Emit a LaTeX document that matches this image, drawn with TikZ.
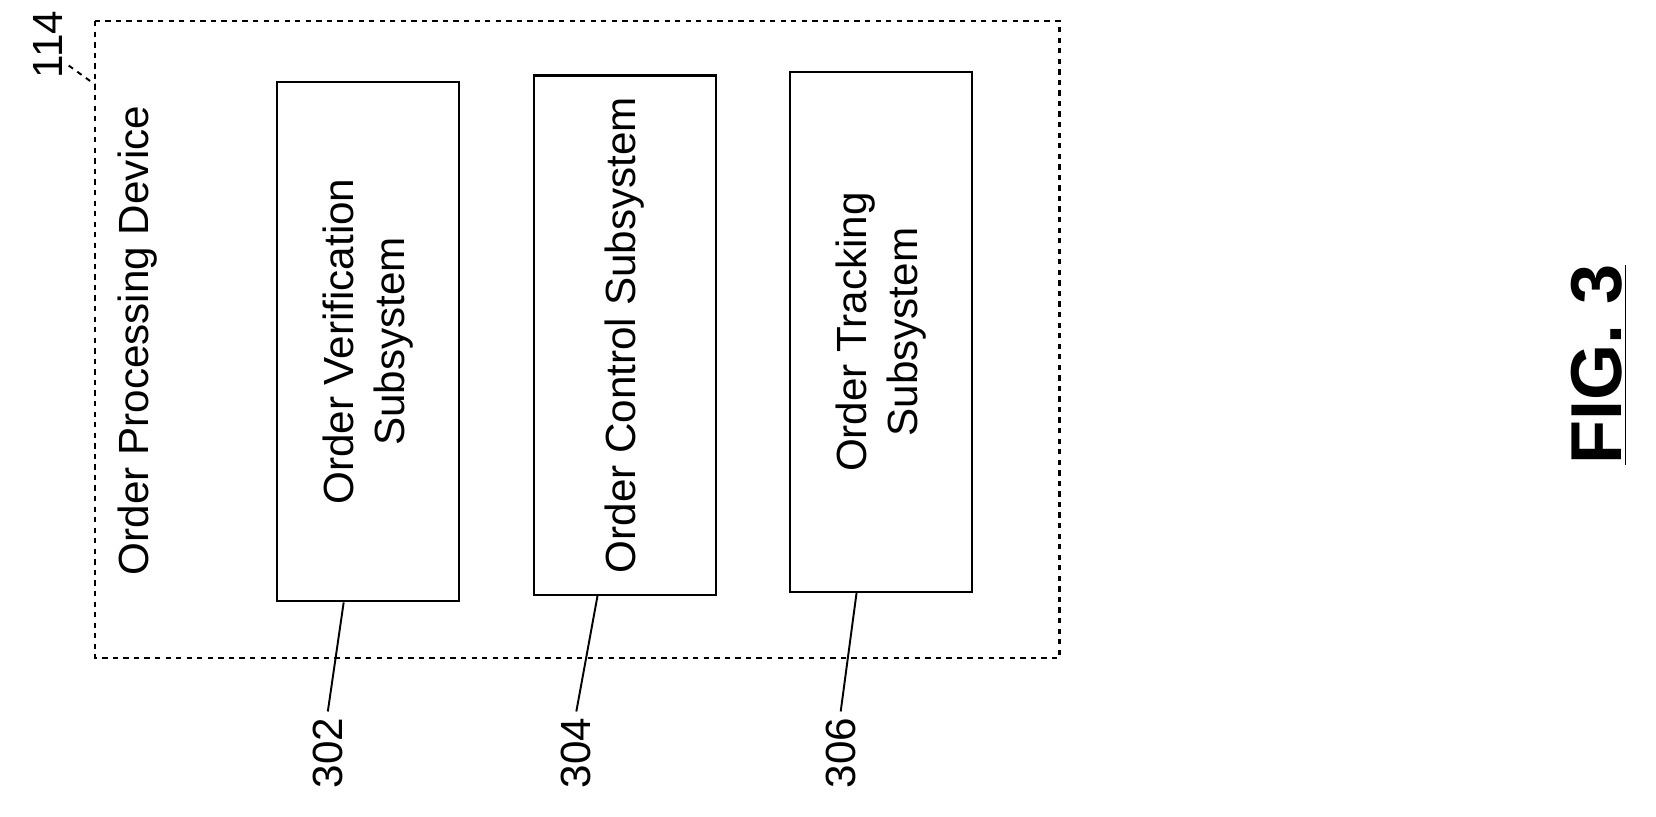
\documentclass[tikz,border=0pt]{standalone}
\usepackage{fontspec}
\setmainfont{Liberation Sans}
\usetikzlibrary{positioning}
\begin{document}
\begin{tikzpicture}[x=0.02114cm,y=-0.02114cm,
    subsys/.style={draw, line width=1.3pt, minimum width=10.38cm, minimum height=3.64cm, rotate=90, align=center, font=\fontsize{24}{29}\selectfont},
    reflabel/.style={rotate=90, font=\fontsize{24}{29}\selectfont},
    leader/.style={line width=1.1pt}]
    \useasboundingbox (0,0) rectangle (1566,772);

    \draw[dashed, line width=1.3pt] (90,20) rectangle (1002,622);
    \node (dev) [reflabel] at (130,322) {Order Processing Device};
    \node (l114) [reflabel] at (45,42) {114};
    \coordinate (c114) at (90,80);
    \draw[leader, dashed] (65,62) -- (c114);

    \node (s302) [subsys] at (348,323) {Order Verification\\Subsystem};
    \node (s304) [subsys] at (591,317) {Order Control Subsystem};
    \node (s306) [subsys] at (833,314) {Order Tracking\\Subsystem};

    \node (l302) [reflabel] at (310,712) {302};
    \node (l304) [reflabel] at (545,712) {304};
    \node (l306) [reflabel] at (795,712) {306};
    \draw[leader] (s302.west -| 325,0) -- (l302.east);
    \draw[leader] (s304.west -| 565,0) -- (l304.east);
    \draw[leader] (s306.west -| 810,0) -- (l306.east);

    \node (fig) [rotate=90, font=\fontsize{41}{48}\selectfont\bfseries] at (1512,345) {\underline{FIG. 3}};
\end{tikzpicture}
\end{document}
